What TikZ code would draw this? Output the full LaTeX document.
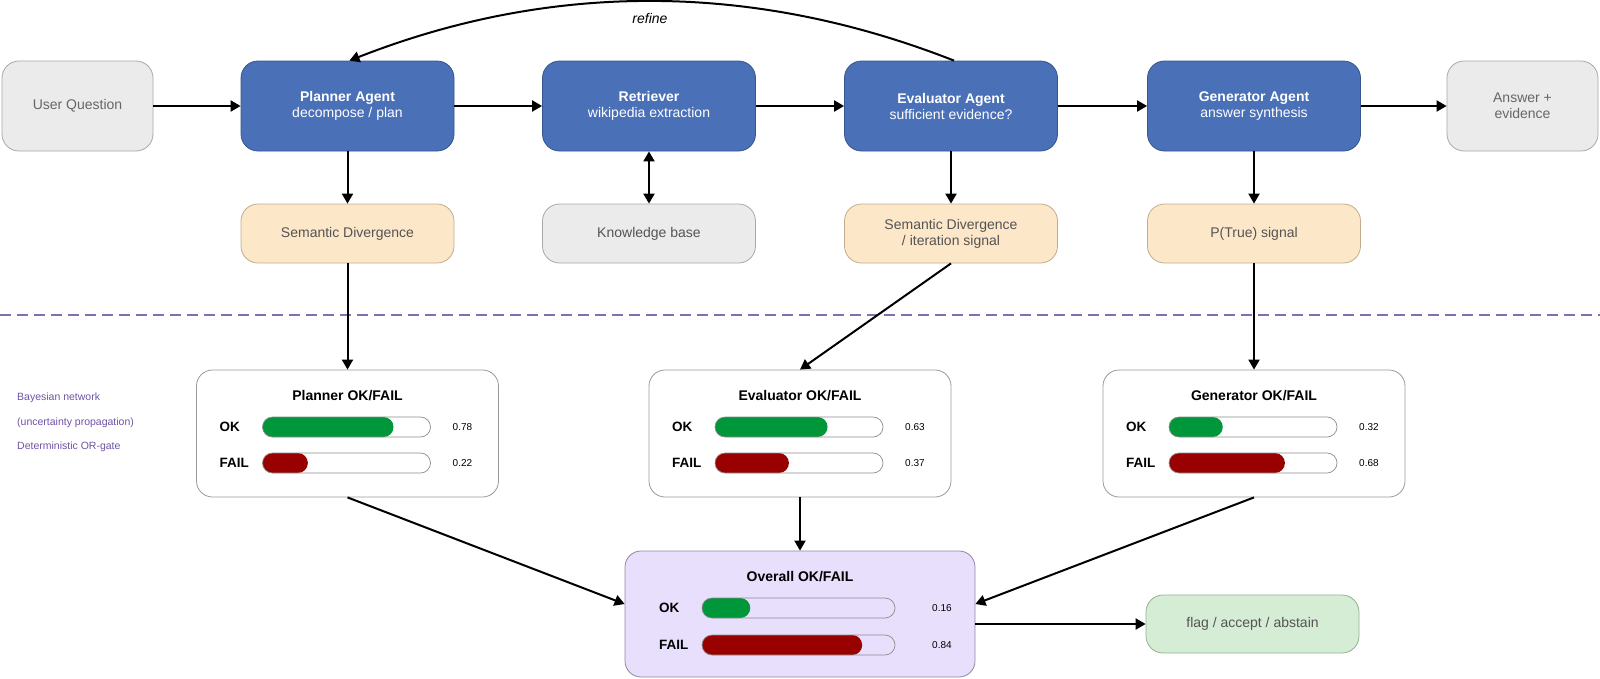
\documentclass[tikz,border=0pt]{standalone}
\usepackage{fontspec}
\setmainfont{Liberation Sans}
\usetikzlibrary{arrows.meta}
\definecolor{agentblue}{HTML}{4A70B8}\definecolor{agentline}{HTML}{34558F}
\definecolor{greyfill}{HTML}{EBEBEB}\definecolor{greyline}{HTML}{A8A8A8}
\definecolor{peach}{HTML}{FDE7C9}\definecolor{peachline}{HTML}{C2AC8E}
\definecolor{lavender}{HTML}{E7DFFC}\definecolor{lavline}{HTML}{8E87A3}
\definecolor{mint}{HTML}{D6EDD5}\definecolor{mintline}{HTML}{91B28C}
\definecolor{okgreen}{HTML}{00963A}\definecolor{failred}{HTML}{990000}
\definecolor{bnpurple}{HTML}{6F52A6}
\newcommand{\pxfont}[2]{\fontsize{#1}{#2}\selectfont}
% name, bar x, bar width, value x, y, label, value, colour, filled part
\newcommand{\probrow}[9]{\node[rowlbl] (#1) at ({#2-43},#5){#6};
\fill[#8,rounded corners=10pt] ({#2},#5-10) rectangle ({#2+#9*#3},#5+10);
\draw[black!45,line width=.7pt,rounded corners=10pt] ({#2},#5-10) rectangle ({#2+#3},#5+10);
\node[rowval] (#1v) at ({#4},#5){#7};}

\begin{document}
\begin{tikzpicture}[x=1pt,y=-1pt,
box/.style={rounded corners=17pt,line width=.8pt,align=center,minimum width=213pt,font=\pxfont{14}{16}},
agent/.style={box,fill=agentblue,draw=agentline,text=white,minimum height=90pt},
ext/.style={box,fill=greyfill,draw=greyline,text=black!60,minimum height=90pt,minimum width=151pt},
signal/.style={box,fill=peach,draw=peachline,text=black!67,minimum height=59pt},
store/.style={box,fill=greyfill,draw=greyline,text=black!67,minimum height=59pt},
outcome/.style={box,fill=mint,draw=mintline,text=black!67,minimum height=58pt},
gate/.style={rounded corners=16pt,draw=black!40,line width=.8pt,fill=white,minimum width=302pt,minimum height=127pt},
gatetitle/.style={font=\bfseries\pxfont{14}{16},inner sep=0},
rowlbl/.style={anchor=west,font=\bfseries\pxfont{13.5}{15},inner sep=0},
rowval/.style={anchor=west,font=\pxfont{10}{12},inner sep=0},
note/.style={anchor=west,text=bnpurple,font=\pxfont{10.5}{12},inner sep=0},
arr/.style={line width=2pt,-{Triangle[length=10pt,width=11pt]}},
dblarr/.style={line width=2pt,{Triangle[length=10pt,width=11pt]}-{Triangle[length=10pt,width=11pt]}}]
\useasboundingbox (0,0) rectangle (1600,678);
% agents row
\node[ext] (uq) at (77.5,106){User Question};
\node[agent] (pl) at (347.5,106){\textbf{Planner Agent}\\decompose / plan};
\node[agent] (rt) at (649,106){\textbf{Retriever}\\wikipedia extraction};
\node[agent] (ev) at (951,106){\textbf{Evaluator Agent}\\sufficient evidence?};
\node[agent] (gn) at (1254,106){\textbf{Generator Agent}\\answer synthesis};
\node[ext] (ans) at (1522.5,106){Answer +\\evidence};
\node[signal] (sd) at (347.5,233.5){Semantic Divergence};
\node[store] (kb) at (649,233.5){Knowledge base};
\node[signal] (sdi) at (951,233.5){Semantic Divergence\\/ iteration signal};
\node[signal] (pt) at (1254,233.5){P(True) signal};
\draw[arr] (uq)--(pl);\draw[arr] (pl)--(rt);\draw[arr] (rt)--(ev);\draw[arr] (ev)--(gn);\draw[arr] (gn)--(ans);
\draw[arr] (pl)--(sd);\draw[dblarr] (rt)--(kb);\draw[arr] (ev)--(sdi);\draw[arr] (gn)--(pt);
\draw[arr] ([xshift=3pt]ev.north) .. controls +(-201,-79) and +(201,-79) .. ([xshift=2pt]pl.north);
\node[font=\itshape\pxfont{14}{16}] (rf) at (650,18){refine};
% bayesian network part
\draw[bnpurple!85,line width=2pt,dash pattern=on 11pt off 6pt] (0,315)--(1600,315);
\foreach \t [count=\i] in {Bayesian network,(uncertainty propagation),Deterministic OR-gate}
  \node[note] (bn\i) at (17,{373.5+24.5*\i}){\t};
\foreach \n/\cx/\who/\ok/\fl/\okf/\flf in {pg/347.5/Planner/0.78/0.22/.78/.27,eg/800/Evaluator/0.63/0.37/.67/.44,gg/1254/Generator/0.32/0.68/.32/.69}{
  \node[gate] (\n) at (\cx,433.5){};\node[gatetitle] (\n-t) at (\cx,396){\who\ OK/FAIL};
  \probrow{\n-ok}{\cx-85}{168}{\cx+105}{427}{OK}{\ok}{okgreen}{\okf}
  \probrow{\n-fail}{\cx-85}{168}{\cx+105}{463}{FAIL}{\fl}{failred}{\flf}}
\node[gate,fill=lavender,draw=lavline,minimum width=350pt,minimum height=126pt] (og) at (800,614){};
\node[gatetitle] (og-t) at (800,577){Overall OK/FAIL};
\probrow{og-ok}{702}{193}{932}{608}{OK}{0.16}{okgreen}{.25}
\probrow{og-fail}{702}{193}{932}{645}{FAIL}{0.84}{failred}{.83}
\node[outcome] (fl) at (1252.5,624){flag / accept / abstain};
\draw[arr] (sd)--(pg);\draw[arr] (sdi.south)--(eg.north);\draw[arr] (pt)--(gg);
\draw[arr] (pg.south)--([yshift=10pt]og.west);\draw[arr] (eg)--(og);\draw[arr] (gg.south)--([yshift=10pt]og.east);
\draw[arr] (og.east |- fl.west)--(fl.west);
\end{tikzpicture}
\end{document}
